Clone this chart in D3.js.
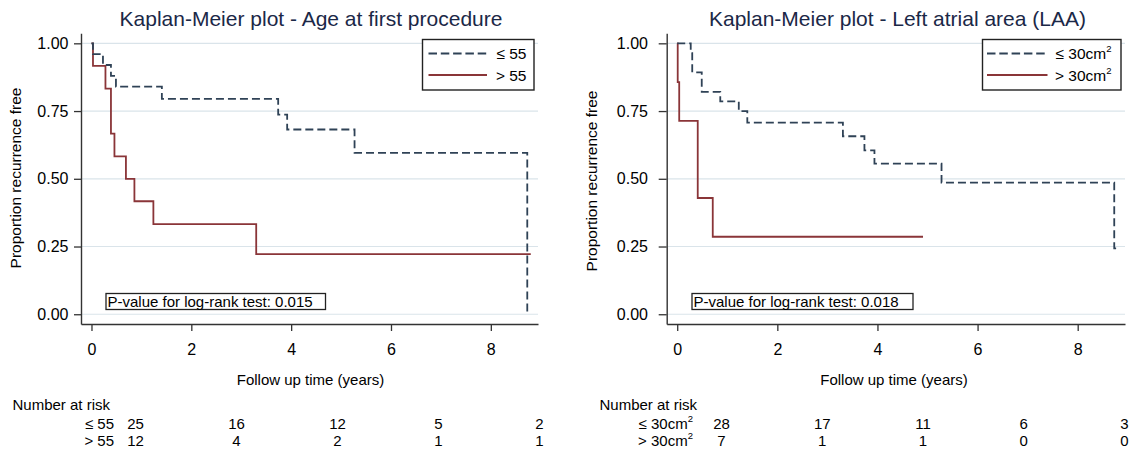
<!DOCTYPE html>
<html>
<head>
<meta charset="utf-8">
<script src="https://cdn.jsdelivr.net/npm/d3@7"></script>
<style>
  body { margin: 0; background: #fff; }
  svg { display: block; }
  text { font-family: "Liberation Sans", Arial, sans-serif; fill: #000; }
</style>
</head>
<body>
<svg id="chart" width="1129" height="454"></svg>
<script>
// ---------------- DATA ----------------
const xTicks = [0, 2, 4, 6, 8];
const yTicks = [0, 0.25, 0.5, 0.75, 1];
const riskTimes = [0, 2, 4, 6, 8];

// Panel 1: Age at first procedure
const ageTitle = "Kaplan-Meier plot - Age at first procedure";
const ageLabels = ["≤ 55", "> 55"];
const ageLe55Time = [0, 0.03, 0.23, 0.39, 0.49, 1.41, 3.74, 3.92, 5.27, 8.73];
const ageLe55Surv = [1, 0.96, 0.92, 0.88, 0.84, 0.795, 0.737, 0.682, 0.596, 0];
const ageGt55Time = [0, 0.03, 0.28, 0.39, 0.46, 0.69, 0.86, 1.24, 3.30, 8.80];
const ageGt55Surv = [1, 0.917, 0.833, 0.667, 0.583, 0.5, 0.417, 0.333, 0.222, 0.222];
const ageRiskLe55 = [25, 16, 12, 5, 2];
const ageRiskGt55 = [12, 4, 2, 1, 1];
const agePValue = "P-value for log-rank test: 0.015";

// Panel 2: Left atrial area
const laaTitle = "Kaplan-Meier plot - Left atrial area (LAA)";
const laaLabels = ["≤ 30cm", "> 30cm"];
const laaSup = "2";
const laaLe30Time = [0, 0.27, 0.30, 0.49, 0.86, 1.23, 1.40, 3.31, 3.74, 3.94, 5.28, 8.73, 8.77];
const laaLe30Surv = [1, 0.964, 0.893, 0.821, 0.786, 0.75, 0.707, 0.657, 0.605, 0.556, 0.486, 0.243, 0.243];
const laaGt30Time = [0, 0.01, 0.04, 0.41, 0.71, 4.91];
const laaGt30Surv = [1, 0.857, 0.714, 0.429, 0.286, 0.286];
const laaRiskLe30 = [28, 17, 11, 6, 3];
const laaRiskGt30 = [7, 1, 1, 0, 0];
const laaPValue = "P-value for log-rank test: 0.018";

// ---------------- STYLE / LAYOUT ----------------
const xDomain = [-0.21, 8.945];
const yDomain = [-0.036, 1.037];
const dashColor = "#2f4256";
const solidColor = "#8a3538";
const gridColor = "#dae4ea";
const axisColor = "#333";
const titleColor = "#1b2847";

const svg = d3.select("#chart");

function drawPanel(cfg) {
  const g = svg.append("g");
  const x = d3.scaleLinear().domain(xDomain).range([cfg.axL, cfg.axR]);
  const y = d3.scaleLinear().domain(yDomain).range([324, 33.3]);
  const rx = d3.scaleLinear().domain([0, 8]).range(cfg.riskRange);

  // grid
  g.selectAll("line.grid").data(yTicks).join("line")
    .attr("class", "grid")
    .attr("x1", cfg.axL + 1).attr("x2", cfg.axR)
    .attr("y1", d => y(d)).attr("y2", d => y(d))
    .attr("stroke", gridColor).attr("stroke-width", 1.2);

  // x axis
  const xa = g.append("g").attr("transform", "translate(0,324)")
    .call(d3.axisBottom(x).tickValues(xTicks).tickSize(7).tickPadding(13).tickSizeOuter(0));
  xa.select(".domain").attr("stroke", axisColor).attr("stroke-width", 1.4);
  xa.selectAll(".tick line").attr("stroke", axisColor).attr("stroke-width", 1.3);
  xa.selectAll(".tick text").attr("font-size", "16px").attr("fill", "#000")
    .attr("font-family", '"Liberation Sans", Arial, sans-serif');

  // y axis
  const ya = g.append("g").attr("transform", `translate(${cfg.axL},0)`)
    .call(d3.axisLeft(y).tickValues(yTicks).tickFormat(d3.format(".2f"))
      .tickSize(cfg.yTick).tickPadding(cfg.yPad).tickSizeOuter(0));
  ya.select(".domain").attr("stroke", axisColor).attr("stroke-width", 1.4);
  ya.selectAll(".tick line").attr("stroke", axisColor).attr("stroke-width", 1.3);
  ya.selectAll(".tick text").attr("font-size", "16px").attr("fill", "#000")
    .attr("font-family", '"Liberation Sans", Arial, sans-serif');

  // title
  g.append("text").attr("x", cfg.titleX).attr("y", 26).attr("text-anchor", "middle")
    .attr("font-size", "21px").style("fill", titleColor).text(cfg.title);

  // axis titles
  g.append("text").attr("transform", `translate(${cfg.yTitleX},${cfg.yTitleY}) rotate(-90)`)
    .attr("text-anchor", "middle").attr("font-size", "15.5px").text("Proportion recurrence free");
  g.append("text").attr("x", cfg.xTitleX).attr("y", 384.5).attr("text-anchor", "middle")
    .attr("font-size", "15px").text("Follow up time (years)");

  // p-value box
  const pb = g.append("g");
  pb.append("rect").attr("x", cfg.pBox[0]).attr("y", 293.5).attr("width", cfg.pBox[1]).attr("height", 16)
    .attr("fill", "#fff").attr("stroke", "#222").attr("stroke-width", 1.3);
  pb.append("text").attr("x", cfg.pBox[0] + 1.5).attr("y", 306.5).attr("font-size", "15px").text(cfg.pValue);

  // curves
  const line = d3.line().x(d => x(d[0])).y(d => y(d[1])).curve(d3.curveStepAfter);
  const s1 = d3.zip(cfg.t1, cfg.s1);
  const s2 = d3.zip(cfg.t2, cfg.s2);
  g.append("path").attr("d", line(s2)).attr("fill", "none")
    .attr("stroke", solidColor).attr("stroke-width", 1.8);
  g.append("path").attr("d", line(s1)).attr("fill", "none")
    .attr("stroke", dashColor).attr("stroke-width", 1.8).attr("stroke-dasharray", "8,4");

  // legend
  const lg = g.append("g");
  lg.append("rect").attr("x", cfg.leg[0]).attr("y", 39.5).attr("width", cfg.leg[1]).attr("height", 50.5)
    .attr("fill", "#fff").attr("stroke", "#222").attr("stroke-width", 1.4);
  lg.append("line").attr("x1", cfg.legLine[0]).attr("x2", cfg.legLine[1]).attr("y1", 53.5).attr("y2", 53.5)
    .attr("stroke", dashColor).attr("stroke-width", 1.8).attr("stroke-dasharray", "8.5,3.8");
  lg.append("line").attr("x1", cfg.legLine[0]).attr("x2", cfg.legLine[1]).attr("y1", 75).attr("y2", 75)
    .attr("stroke", solidColor).attr("stroke-width", 1.8);
  [53.5, 75].forEach((cy, i) => {
    const t = lg.append("text").attr("x", cfg.legTextX).attr("y", cy + 5.5)
      .attr("text-anchor", "end").attr("font-size", "15.5px").text(cfg.labels[i]);
    if (cfg.sup) t.append("tspan").attr("font-size", "9.5px").attr("dy", -7).text(cfg.sup);
  });

  // number at risk
  g.append("text").attr("x", cfg.riskTitleX).attr("y", 410).attr("font-size", "15px").text("Number at risk");
  [[cfg.r1, 428.5], [cfg.r2, 445.5]].forEach(([vals, by], i) => {
    const t = g.append("text").attr("x", cfg.rowLabelX).attr("y", by).attr("text-anchor", "end")
      .attr("font-size", "15px").text(cfg.labels[i]);
    if (cfg.sup) t.append("tspan").attr("font-size", "9.5px").attr("dy", -7).text(cfg.sup);
    g.selectAll(null).data(d3.zip(riskTimes, vals)).join("text")
      .attr("x", d => rx(d[0])).attr("y", by).attr("text-anchor", "middle")
      .attr("font-size", "15px").text(d => d[1]);
  });
}

drawPanel({
  axL: 81, axR: 538, yTick: 7, yPad: 5.5,
  title: ageTitle, titleX: 311,
  yTitleX: 21, yTitleY: 178, xTitleX: 310.5,
  pBox: [106, 219.5], pValue: agePValue,
  t1: ageLe55Time, s1: ageLe55Surv, t2: ageGt55Time, s2: ageGt55Surv,
  leg: [422.5, 111.5], legLine: [428.5, 487], legTextX: 526.5,
  labels: ageLabels, sup: null,
  riskTitleX: 12.5, rowLabelX: 114, riskRange: [135.5, 539.5],
  r1: ageRiskLe55, r2: ageRiskGt55
});

drawPanel({
  axL: 666.7, axR: 1125, yTick: 8, yPad: 10.7,
  title: laaTitle, titleX: 897.5,
  yTitleX: 597, yTitleY: 181, xTitleX: 894,
  pBox: [692, 221], pValue: laaPValue,
  t1: laaLe30Time, s1: laaLe30Surv, t2: laaGt30Time, s2: laaGt30Surv,
  leg: [982.5, 138.5], legLine: [987, 1047.5], legTextX: 1111.5,
  labels: laaLabels, sup: laaSup,
  riskTitleX: 599.5, rowLabelX: 693, riskRange: [721.5, 1124.5],
  r1: laaRiskLe30, r2: laaRiskGt30
});
</script>
</body>
</html>
